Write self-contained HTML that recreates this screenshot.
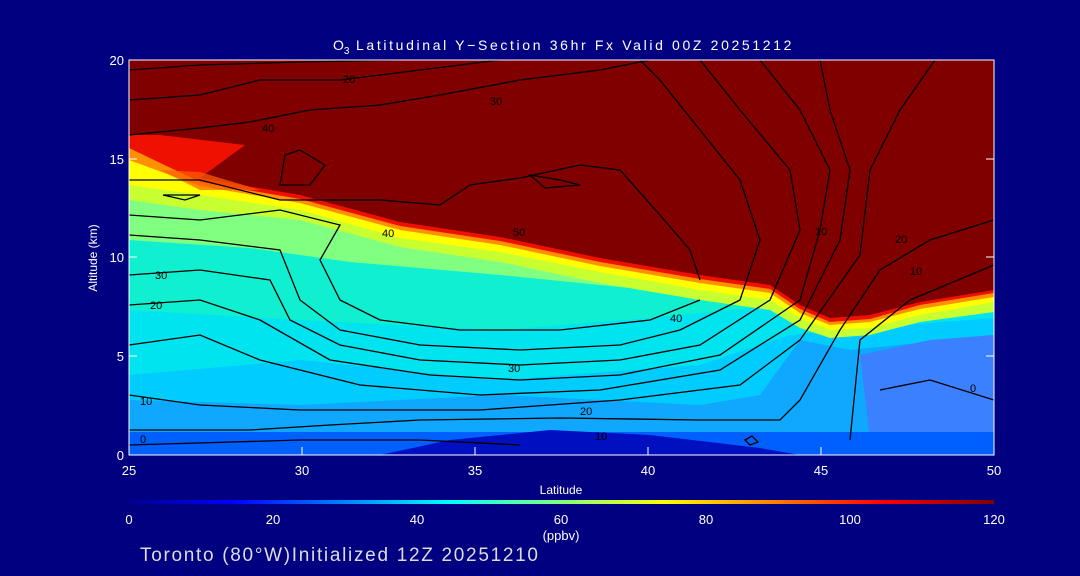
<!DOCTYPE html>
<html><head><meta charset="utf-8"><style>
body{margin:0;background:#000080;}
svg{display:block;font-family:"Liberation Sans",sans-serif;}
</style></head><body>
<svg width="1080" height="576" viewBox="0 0 1080 576">
<defs>
<linearGradient id="jet" x1="0" x2="1" y1="0" y2="0">
<stop offset="0" stop-color="#000090"/>
<stop offset="0.12" stop-color="#0000ff"/>
<stop offset="0.37" stop-color="#00ffff"/>
<stop offset="0.62" stop-color="#ffff00"/>
<stop offset="0.87" stop-color="#ff0000"/>
<stop offset="1" stop-color="#800000"/>
</linearGradient>
<clipPath id="c"><rect x="129" y="60" width="865" height="395"/></clipPath>
</defs>
<rect width="1080" height="576" fill="#000080"/>
<g clip-path="url(#c)">
<rect x="129" y="60" width="865" height="395" fill="#10a8ff"/>
<path d="M129,400 L300,405 L500,395 L700,405 L760,395 L800,340 L850,350 L994,335 L994,60 L129,60Z" fill="#00ccff"/>
<path d="M860,355 L930,340 L994,335 L994,440 L870,440Z" fill="#3a80ff"/>
<path d="M129,375 L300,360 L500,380 L700,365 L790,335 L840,330 L994,318 L994,60 L129,60Z" fill="#00e4f0"/>
<path d="M129,310 L300,320 L500,330 L650,318 L780,305 L840,322 L994,305 L994,60 L129,60Z" fill="#10f0d0"/>
<path d="M129,240 L250,248 L350,262 L500,275 L650,290 L750,300 L800,318 L840,325 L920,310 L994,300 L994,60 L129,60Z" fill="#80ff80"/>
<path d="M129,200 L200,210 L300,220 L400,247 L500,262 L600,283 L700,300 L770,310 L800,328 L830,338 L870,335 L920,322 L994,312 L994,60 L129,60Z" fill="#c8ff30"/>
<path d="M129,185 L200,195 L300,210 L400,238 L500,252 L600,272 L700,290 L770,300 L800,318 L830,330 L870,328 L920,315 L994,302 L994,60 L129,60Z" fill="#ffff00"/>
<path d="M129,160 L200,186 L300,203 L400,230 L500,245 L600,266 L700,283 L770,293 L800,313 L830,325 L870,322 L920,309 L994,297 L994,60 L129,60Z" fill="#ff9000"/>
<path d="M129,148 L200,182 L300,199 L400,226 L500,241 L600,262 L700,279 L770,289 L800,309 L830,322 L870,319 L920,305 L994,293 L994,60 L129,60Z" fill="#ee1000"/>
<path d="M129,135 L160,135 L245,145 L200,178 L300,195 L400,222 L500,237 L600,258 L700,275 L770,285 L800,305 L830,318 L870,315 L920,302 L994,290 L994,60 L129,60Z" fill="#800000"/>
<path d="M160,170 L200,172 L260,190 L200,190Z" fill="#ff6000" opacity="0.7"/>
<rect x="129" y="432" width="865" height="23" fill="#0060ff"/>
<path d="M380,455 L450,440 L550,430 L650,435 L760,448 L800,455Z" fill="#0010c0"/>
<g fill="none" stroke="#000" stroke-width="1.3">
<path d="M129,70 L200,65 L300,62 L400,60"/>
<path d="M129,100 L200,95 L260,80 L340,80 L420,70 L500,60"/>
<path d="M129,135 L200,128 L250,122 L310,110 L380,105 L440,95 L520,80 L600,70 L650,60"/>
<path d="M300,150 L325,165 L310,185 L280,185 L285,155Z"/>
<path d="M530,175 L560,180 L580,185 L545,188Z"/>
<path d="M163,195 L200,195 L185,200Z"/>
<path d="M129,180 L200,180 L280,200 L380,200 L440,205 L470,185 L520,178 L580,165 L620,170 L660,215 L690,250 L700,280"/>
<path d="M129,215 L200,220 L280,210 L340,225 L320,260 L340,300 L380,320 L460,330 L560,330 L650,320 L700,300"/>
<path d="M129,235 L200,240 L280,250 L300,300 L340,330 L420,345 L520,350 L620,345 L680,330 L740,300 L760,240 L740,180 L660,80 L640,60"/>
<path d="M129,275 L200,270 L270,280 L290,320 L340,345 L420,360 L520,365 L620,360 L700,345 L770,300 L800,230 L790,170 L740,110 L700,60"/>
<path d="M129,305 L200,300 L260,320 L330,360 L430,375 L520,380 L620,375 L720,355 L800,300 L820,230 L830,170 L800,110 L760,60"/>
<path d="M129,345 L200,335 L260,360 L360,385 L480,395 L600,390 L720,370 L800,320 L840,240 L850,170 L830,110 L820,60"/>
<path d="M129,395 L200,405 L300,410 L480,410 L620,400 L740,385 L800,340 L860,255 L870,170 L900,110 L935,60"/>
<path d="M129,430 L250,430 L330,425 L420,420 L560,418 L700,420 L780,420 L800,400 L840,330 L880,270 L930,240 L994,220"/>
<path d="M129,445 L300,440 L420,440 L520,445"/>
<path d="M850,440 L860,340 L910,300 L994,265"/>
<path d="M880,390 L930,380 L994,400"/>
<path d="M745,440 L752,436 L758,442 L750,445Z"/>
</g>
<g fill="#000" font-size="11">
<text x="343" y="83">20</text><text x="490" y="105">30</text><text x="262" y="132">40</text>
<text x="382" y="237">40</text><text x="513" y="236">50</text><text x="155" y="279">30</text>
<text x="150" y="309">20</text><text x="670" y="322">40</text><text x="508" y="372">30</text>
<text x="580" y="415">20</text><text x="595" y="440">10</text><text x="140" y="405">10</text>
<text x="140" y="443">0</text><text x="815" y="235">10</text><text x="895" y="243">20</text>
<text x="910" y="275">10</text><text x="970" y="392">0</text>
</g>
</g>
<rect x="129" y="60" width="865" height="395" fill="none" stroke="#fff" stroke-width="1"/>
<g stroke="#fff" stroke-width="1">
<path d="M129,455v-8M302,455v-8M475,455v-8M648,455v-8M821,455v-8M994,455v-8"/>
<path d="M129,356h8M129,257h8M129,159h8M129,60h8M994,356h-8M994,257h-8M994,159h-8"/>
</g>
<g fill="#fff" font-size="13">
<g text-anchor="middle">
<text x="129" y="475">25</text><text x="302" y="475">30</text><text x="475" y="475">35</text>
<text x="648" y="475">40</text><text x="821" y="475">45</text><text x="994" y="475">50</text>
<text x="561" y="494" font-size="12">Latitude</text>
</g>
<g text-anchor="end">
<text x="124" y="460">0</text><text x="124" y="361">5</text><text x="124" y="262">10</text>
<text x="124" y="164">15</text><text x="124" y="65">20</text>
</g>
<text transform="translate(97,258) rotate(-90)" text-anchor="middle" font-size="12">Altitude (km)</text>
<text x="333" y="50" font-size="14">O<tspan font-size="10" dy="4">3</tspan><tspan dy="-4" textLength="442" lengthAdjust="spacing"> Latitudinal Y−Section 36hr  Fx Valid 00Z 20251212</tspan></text>
</g>
<rect x="129" y="500" width="865" height="4" fill="url(#jet)"/>
<g fill="#fff" font-size="13" text-anchor="middle">
<text x="129" y="524">0</text><text x="273" y="524">20</text><text x="417" y="524">40</text>
<text x="561" y="524">60</text><text x="706" y="524">80</text><text x="850" y="524">100</text><text x="994" y="524">120</text>
<text x="561" y="540">(ppbv)</text>
</g>
<text x="140" y="561" fill="#dddddd" font-size="19" textLength="398" lengthAdjust="spacing">Toronto (80°W)Initialized 12Z 20251210</text>
</svg>
</body></html>
